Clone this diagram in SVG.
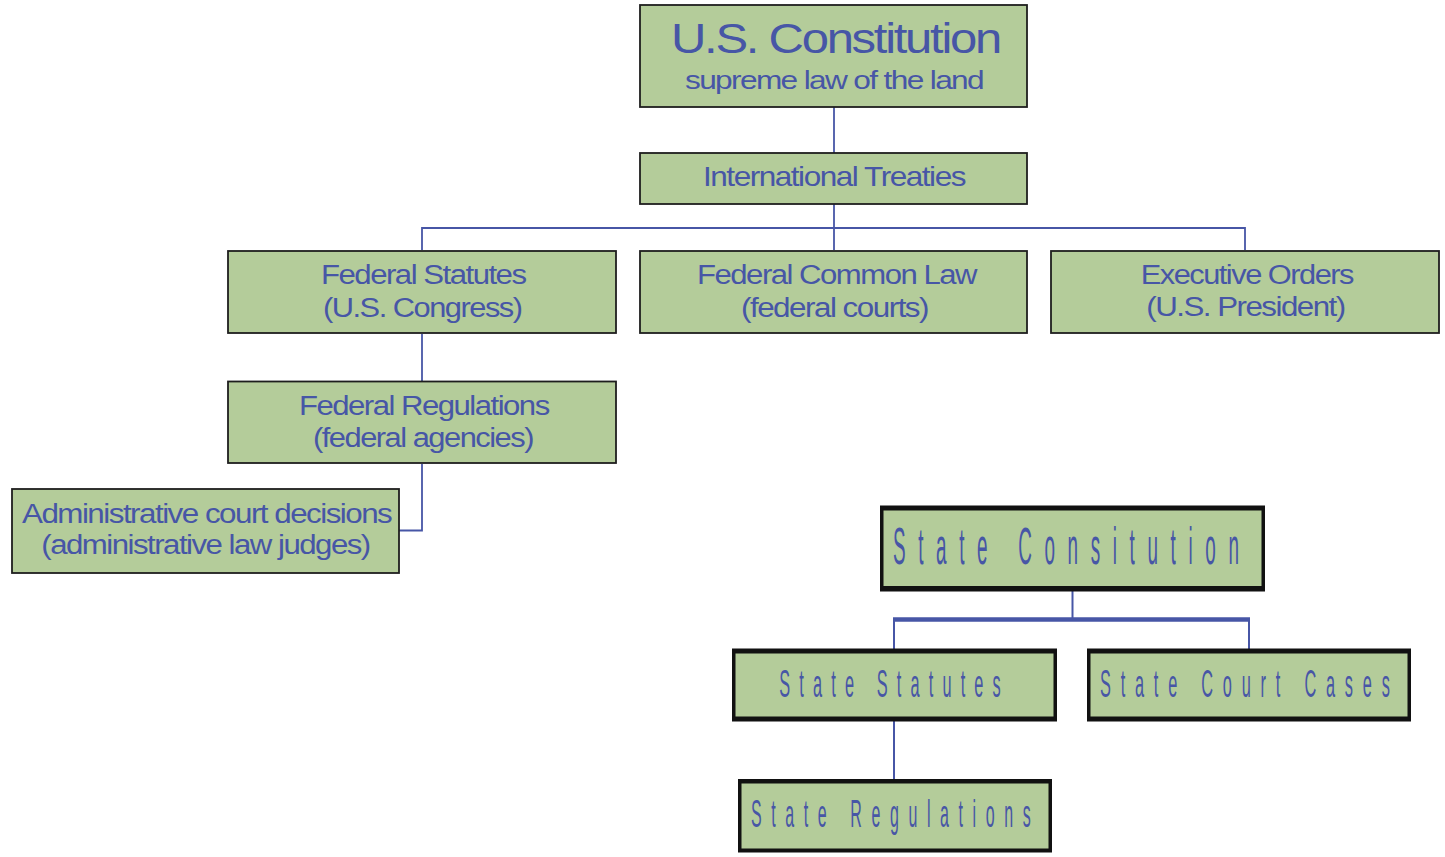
<svg xmlns="http://www.w3.org/2000/svg" width="1445" height="857" viewBox="0 0 1445 857">
<style>
.box{fill:#b4cc9a;stroke:#1e1e1e;stroke-width:1.8}
.sbox{fill:#111}
.sin{fill:#b4cc9a}
.t{font-family:"Liberation Sans",Arial,sans-serif;fill:#4756a6}
.f{letter-spacing:-1.3px}
.c{fill:none;stroke:#4756a6;stroke-width:1.8}
.c2{stroke-width:2}
.thick{stroke-width:4.5}
</style>
<rect width="1445" height="857" fill="#fff"/>
<g id="connectors">
<line class="c" x1="834" y1="107" x2="834" y2="153"/>
<line class="c" x1="834" y1="204" x2="834" y2="250"/>
<polyline class="c" points="422,250 422,228 1245,228 1245,250"/>
<line class="c" x1="422" y1="334" x2="422" y2="381"/>
<polyline class="c" points="422,464 422,530.5 399,530.5"/>
<line class="c c2" x1="1072.5" y1="591" x2="1072.5" y2="619"/>
<line class="c thick" x1="893" y1="619.5" x2="1250" y2="619.5"/>
<line class="c c2" x1="894" y1="619" x2="894" y2="649"/>
<line class="c c2" x1="1249" y1="619" x2="1249" y2="649"/>
<line class="c c2" x1="894" y1="721" x2="894" y2="779"/>
</g>
<g id="us-constitution">
<rect class="box" x="640" y="5" width="387" height="102"/>
<text class="t" x="671" y="53.3" font-size="43" letter-spacing="-2" textLength="329" lengthAdjust="spacingAndGlyphs">U.S. Constitution</text>
<text class="t f" x="685" y="89.3" font-size="25" textLength="298" lengthAdjust="spacingAndGlyphs">supreme law of the land</text>
</g>
<g id="international-treaties">
<rect class="box" x="640" y="153" width="387" height="51"/>
<text class="t f" x="703" y="186" font-size="28" textLength="262" lengthAdjust="spacingAndGlyphs">International Treaties</text>
</g>
<g id="federal-statutes">
<rect class="box" x="228" y="251" width="388" height="82"/>
<text class="t f" x="321" y="284.3" font-size="27" textLength="204.5" lengthAdjust="spacingAndGlyphs">Federal Statutes</text>
<text class="t f" x="323" y="316.7" font-size="27" textLength="198.5" lengthAdjust="spacingAndGlyphs">(U.S. Congress)</text>
</g>
<g id="federal-common-law">
<rect class="box" x="640" y="251" width="387" height="82"/>
<text class="t f" x="697" y="284.3" font-size="27" textLength="279" lengthAdjust="spacingAndGlyphs">Federal Common Law</text>
<text class="t f" x="741" y="316.7" font-size="27" textLength="187" lengthAdjust="spacingAndGlyphs">(federal courts)</text>
</g>
<g id="executive-orders">
<rect class="box" x="1051" y="251" width="388" height="82"/>
<text class="t f" x="1140.7" y="283.5" font-size="27" textLength="212.3" lengthAdjust="spacingAndGlyphs">Executive Orders</text>
<text class="t f" x="1146.3" y="315.5" font-size="27" textLength="198.4" lengthAdjust="spacingAndGlyphs">(U.S. President)</text>
</g>
<g id="federal-regulations">
<rect class="box" x="228" y="381.5" width="388" height="81.5"/>
<text class="t f" x="299" y="415" font-size="27" textLength="249.7" lengthAdjust="spacingAndGlyphs">Federal Regulations</text>
<text class="t f" x="313" y="446.7" font-size="27" textLength="220" lengthAdjust="spacingAndGlyphs">(federal agencies)</text>
</g>
<g id="administrative-court">
<rect class="box" x="12" y="489" width="387" height="84"/>
<text class="t f" x="22" y="522.7" font-size="27" textLength="369.3" lengthAdjust="spacingAndGlyphs">Administrative court decisions</text>
<text class="t f" x="41.3" y="554.3" font-size="27" textLength="328.4" lengthAdjust="spacingAndGlyphs">(administrative law judges)</text>
</g>
<g id="state-constitution">
<rect class="sbox" x="880" y="505.5" width="385" height="86"/>
<rect class="sin" x="883.5" y="510.5" width="378" height="75.5"/>
<text class="t" transform="translate(893,563.7) scale(0.37,1)" x="0" y="0" font-size="51" textLength="935" lengthAdjust="spacing">State Consitution</text>
</g>
<g id="state-statutes">
<rect class="sbox" x="732" y="648.5" width="325" height="73"/>
<rect class="sin" x="735.5" y="653.5" width="318" height="63"/>
<text class="t" transform="translate(779.3,697.3) scale(0.43,1)" x="0" y="0" font-size="38" textLength="515" lengthAdjust="spacing">State Statutes</text>
</g>
<g id="state-court-cases">
<rect class="sbox" x="1087" y="648.5" width="324" height="73"/>
<rect class="sin" x="1090.5" y="653.5" width="317" height="63"/>
<text class="t" transform="translate(1100,697.3) scale(0.43,1)" x="0" y="0" font-size="38" textLength="674" lengthAdjust="spacing">State Court Cases</text>
</g>
<g id="state-regulations">
<rect class="sbox" x="738" y="779" width="314" height="73.5"/>
<rect class="sin" x="741.5" y="783.5" width="307" height="65"/>
<text class="t" transform="translate(751,827.3) scale(0.42,1)" x="0" y="0" font-size="38" textLength="666" lengthAdjust="spacing">State Regulations</text>
</g>
</svg>
